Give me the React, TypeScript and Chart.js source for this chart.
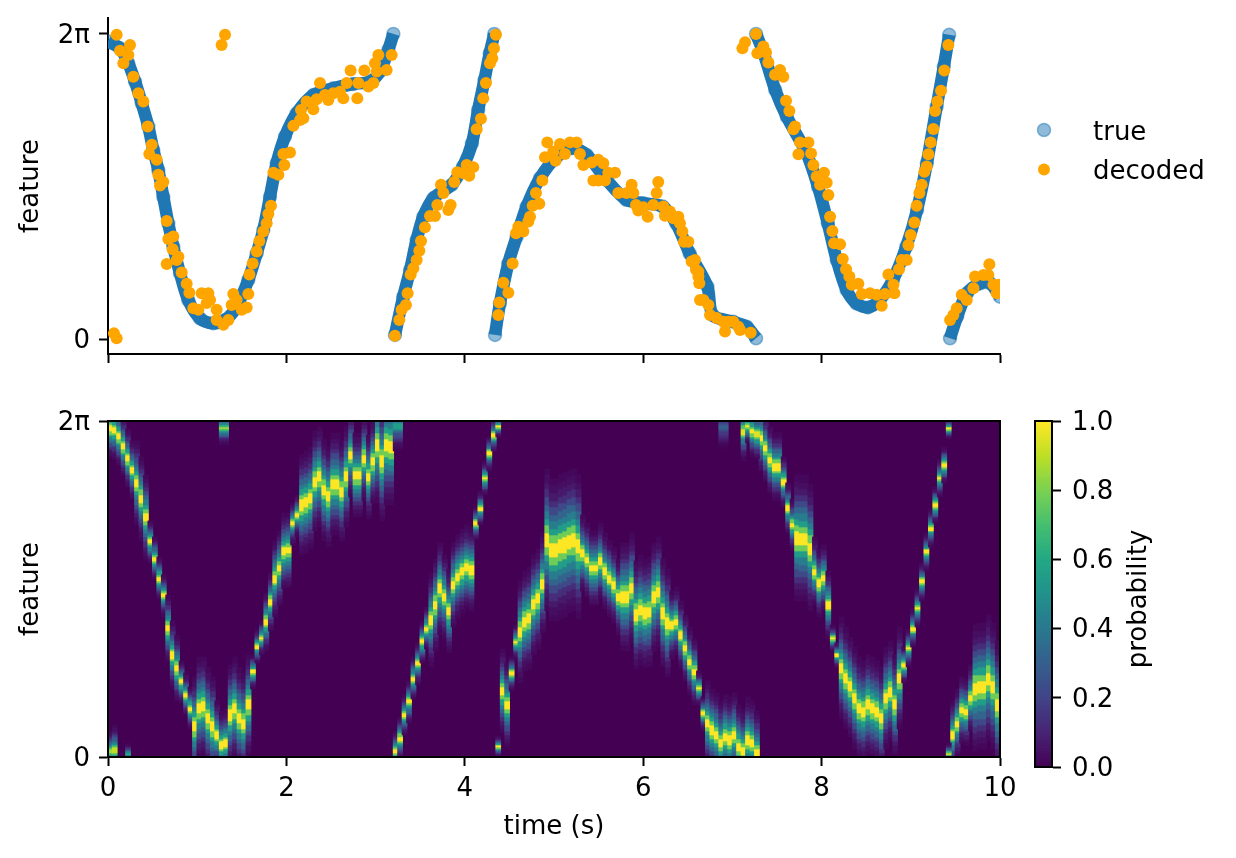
import React, { useEffect, useRef } from "react";
import { Chart, registerables } from "chart.js";

Chart.register(...registerables);

const TWO_PI = Math.PI * 2;
const FONT = "'DejaVu Sans'";
const FONT_SIZE = 26;

// True feature, as a fraction of 2π; null separates the wrapped runs.
const trueTime = [
  0, 0.135, 0.228, 0.303, 0.378, 0.452, 0.508, 0.564, 0.62, 0.676, 0.732, 0.807, 0.9, 1.031, 1.181, 1.312, 1.442, 1.573, 1.667, 1.741, 1.816, 1.891, 1.984, 2.115, 2.302, 2.526, 2.75, 2.937, 3.049, 3.143, 3.199, 3.21,
  3.217, 3.31, 3.386, 3.46, 3.535, 3.647, 3.853, 3.98, 4.08, 4.15, 4.22, 4.28, 4.33, 4.335,
  4.339, 4.394, 4.488, 4.581, 4.693, 4.843, 5.03, 5.2, 5.366, 5.59, 5.81, 6.0, 6.22, 6.37, 6.52, 6.72, 6.78, 7.01, 7.16, 7.265, 7.265,
  7.265, 7.35, 7.48, 7.61, 7.83, 7.96, 8.07, 8.17, 8.28, 8.39, 8.52, 8.65, 8.8, 8.95, 9.07, 9.18, 9.29, 9.37, 9.43, 9.435,
  9.44, 9.52, 9.63, 9.78, 9.89, 10,
];
const trueFraction = [
  0.975, 0.953, 0.904, 0.844, 0.773, 0.697, 0.62, 0.555, 0.467, 0.38, 0.304, 0.217, 0.129, 0.069, 0.053, 0.064, 0.107, 0.195, 0.282, 0.358, 0.467, 0.577, 0.664, 0.74, 0.8, 0.822, 0.836, 0.844, 0.877, 0.948, 1.0, null,
  0.015, 0.14, 0.227, 0.326, 0.402, 0.462, 0.506, 0.566, 0.642, 0.751, 0.849, 0.937, 1.0, null,
  0.015, 0.118, 0.249, 0.336, 0.435, 0.528, 0.598, 0.626, 0.604, 0.522, 0.457, 0.446, 0.435, 0.38, 0.282, 0.173, 0.08, 0.058, 0.042, 0.004, null,
  1.0, 0.937, 0.817, 0.729, 0.61, 0.5, 0.38, 0.26, 0.162, 0.118, 0.105, 0.129, 0.195, 0.304, 0.424, 0.577, 0.762, 0.893, 0.997, null,
  0.004, 0.075, 0.151, 0.184, 0.184, 0.14,
];

const decodedTime = [
  0.097, 0.067, 0.097, 0.247, 0.135, 0.228, 0.172, 0.284, 0.34, 0.396, 0.445, 0.49, 0.463, 0.546, 0.564, 0.62, 0.583, 0.658, 0.732, 0.676, 0.725, 0.789, 0.77, 0.658, 0.826, 0.882, 0.912, 1.05, 1.125, 0.957, 1.013, 1.106, 1.144, 1.218, 1.218, 1.293, 1.349, 1.274, 1.312, 1.405, 1.386, 1.442, 1.499, 1.555, 1.573, 1.585, 1.622, 1.667, 1.697, 1.741, 1.779, 1.798, 1.827, 1.854, 1.91, 1.977, 1.966, 2.04, 2.078, 2.153, 2.19, 2.164, 2.227, 2.302, 2.339, 2.377, 2.433, 2.47, 2.526, 2.601, 2.638, 2.676, 2.72, 2.795, 2.806, 2.874, 2.919, 2.975, 2.993, 3.031, 3.012, 3.124, 3.18,
  3.217, 3.266, 3.292, 3.34, 3.359, 3.393, 3.423, 3.46, 3.49, 3.509, 3.553, 3.61, 3.666, 3.692, 3.759, 3.733, 3.815, 3.841, 3.882, 3.916, 3.983, 4.021, 4.05, 4.095, 4.133, 4.181, 4.207, 4.237, 4.282, 4.308, 4.327, 4.349,
  4.376, 4.387, 4.488, 4.432, 4.536, 4.574, 4.6, 4.656, 4.712, 4.731, 4.761, 4.835, 4.798, 4.869, 4.899, 4.925, 4.992, 5.018, 5.067, 5.123, 5.179, 5.254, 5.291, 5.329, 5.422, 5.441, 5.497, 5.497, 5.571, 5.553, 5.609, 5.684, 5.721, 5.814, 5.87, 5.889, 5.919, 5.945, 6.001, 6.05, 6.113, 6.169, 6.151, 6.225, 6.244, 6.3, 6.338, 6.394, 6.412, 6.439, 6.457, 6.506, 6.543, 6.58, 6.618, 6.629, 6.637,
  6.592, 6.619, 6.675, 6.731, 6.749, 6.824, 6.917, 6.899, 6.955, 7.011, 7.067, 7.086, 7.205,
  7.112, 7.142, 7.265, 7.28, 7.347, 7.377, 7.403, 7.478, 7.534, 7.571, 7.601, 7.639, 7.684, 7.702, 7.758, 7.852, 7.74, 7.882, 7.908, 7.945, 7.983, 8.027, 8.057, 8.076, 8.095, 8.121, 8.14, 8.207, 8.237, 8.274, 8.311, 8.338, 8.412, 8.45, 8.543, 8.618, 8.674, 8.711, 8.749, 8.805, 8.816, 8.868, 8.898, 8.954, 8.973, 8.999, 9.04, 9.066, 9.096, 9.122, 9.152, 9.178, 9.197, 9.223, 9.253, 9.272, 9.298, 9.339, 9.376, 9.421,
  9.44, 9.477, 9.515, 9.571, 9.627, 9.702, 9.72, 9.814, 9.87, 9.881, 9.926, 9.982, 9.963,
];
const decodedFraction = [
  0.997, 0.02, 0.004, 0.964, 0.945, 0.931, 0.904, 0.86, 0.806, 0.779, 0.697, 0.637, 0.607, 0.588, 0.539, 0.515, 0.504, 0.388, 0.337, 0.329, 0.295, 0.271, 0.26, 0.247, 0.219, 0.182, 0.153, 0.151, 0.151, 0.102, 0.097, 0.119, 0.129, 0.097, 0.064, 0.048, 0.064, 0.964, 0.997, 0.149, 0.113, 0.129, 0.097, 0.105, 0.149, 0.213, 0.249, 0.288, 0.322, 0.353, 0.38, 0.411, 0.438, 0.546, 0.539, 0.571, 0.607, 0.612, 0.699, 0.718, 0.724, 0.751, 0.779, 0.753, 0.786, 0.839, 0.8, 0.784, 0.806, 0.811, 0.789, 0.839, 0.88, 0.789, 0.839, 0.88, 0.828, 0.839, 0.904, 0.931, 0.877, 0.882, 0.931,
  0.012, 0.064, 0.097, 0.113, 0.151, 0.213, 0.233, 0.26, 0.29, 0.322, 0.367, 0.404, 0.404, 0.44, 0.479, 0.506, 0.424, 0.44, 0.515, 0.547, 0.544, 0.571, 0.536, 0.564, 0.688, 0.722, 0.789, 0.839, 0.904, 0.92, 0.953, 0.997,
  0.08, 0.121, 0.153, 0.186, 0.249, 0.348, 0.369, 0.353, 0.386, 0.402, 0.438, 0.444, 0.479, 0.52, 0.596, 0.645, 0.615, 0.585, 0.64, 0.607, 0.645, 0.645, 0.607, 0.571, 0.579, 0.52, 0.588, 0.52, 0.52, 0.577, 0.546, 0.546, 0.479, 0.479, 0.506, 0.479, 0.44, 0.422, 0.433, 0.402, 0.44, 0.515, 0.479, 0.435, 0.405, 0.419, 0.397, 0.402, 0.38, 0.353, 0.32, 0.32, 0.255, 0.26, 0.222, 0.184, 0.129,
  0.228, 0.206, 0.129, 0.113, 0.08, 0.07, 0.026, 0.058, 0.058, 0.058, 0.042, 0.031, 0.022,
  0.953, 0.973, 1.0, 0.937, 0.959, 0.939, 0.906, 0.866, 0.882, 0.86, 0.781, 0.748, 0.688, 0.697, 0.645, 0.645, 0.606, 0.609, 0.571, 0.533, 0.506, 0.546, 0.513, 0.473, 0.402, 0.355, 0.315, 0.312, 0.263, 0.23, 0.206, 0.179, 0.182, 0.149, 0.151, 0.146, 0.11, 0.149, 0.213, 0.179, 0.151, 0.23, 0.26, 0.26, 0.309, 0.342, 0.383, 0.438, 0.479, 0.506, 0.549, 0.566, 0.606, 0.645, 0.689, 0.748, 0.779, 0.814, 0.88, 0.964,
  0.064, 0.08, 0.102, 0.146, 0.129, 0.168, 0.206, 0.211, 0.211, 0.246, 0.179, 0.179, 0.151,
];

// Heat map: for each time column, where the probability ridge sits and how wide it is.
const heatTime = [
  0.025, 0.075, 0.125, 0.175, 0.225, 0.275, 0.325, 0.375, 0.425, 0.475, 0.525, 0.575, 0.625, 0.675, 0.725, 0.775, 0.825, 0.875, 0.925, 0.975,
  1.025, 1.075, 1.125, 1.175, 1.225, 1.275, 1.325, 1.375, 1.425, 1.475, 1.525, 1.575, 1.625, 1.675, 1.725, 1.775, 1.825, 1.875, 1.925, 1.975,
  2.025, 2.075, 2.125, 2.175, 2.225, 2.275, 2.325, 2.375, 2.425, 2.475, 2.525, 2.575, 2.625, 2.675, 2.725, 2.775, 2.825, 2.875, 2.925, 2.975,
  3.025, 3.075, 3.125, 3.175, 3.225, 3.275, 3.325, 3.375, 3.425, 3.475, 3.525, 3.575, 3.625, 3.675, 3.725, 3.775, 3.825, 3.875, 3.925, 3.975,
  4.025, 4.075, 4.125, 4.175, 4.225, 4.275, 4.325, 4.375, 4.425, 4.475, 4.525, 4.575, 4.625, 4.675, 4.725, 4.775, 4.825, 4.875, 4.925, 4.975,
  5.025, 5.075, 5.125, 5.175, 5.225, 5.275, 5.325, 5.375, 5.425, 5.475, 5.525, 5.575, 5.625, 5.675, 5.725, 5.775, 5.825, 5.875, 5.925, 5.975,
  6.025, 6.075, 6.125, 6.175, 6.225, 6.275, 6.325, 6.375, 6.425, 6.475, 6.525, 6.575, 6.625, 6.675, 6.725, 6.775, 6.825, 6.875, 6.925, 6.975,
  7.025, 7.075, 7.125, 7.175, 7.225, 7.275, 7.325, 7.375, 7.425, 7.475, 7.525, 7.575, 7.625, 7.675, 7.725, 7.775, 7.825, 7.875, 7.925, 7.975,
  8.025, 8.075, 8.125, 8.175, 8.225, 8.275, 8.325, 8.375, 8.425, 8.475, 8.525, 8.575, 8.625, 8.675, 8.725, 8.775, 8.825, 8.875, 8.925, 8.975,
  9.025, 9.075, 9.125, 9.175, 9.225, 9.275, 9.325, 9.375, 9.425, 9.475, 9.525, 9.575, 9.625, 9.675, 9.725, 9.775, 9.825, 9.875, 9.925, 9.975,
];
const heatCentre = [
  0.978, 0.973, 0.954, 0.924, 0.889, 0.854, 0.815, 0.77, 0.715, 0.641, 0.591, 0.532, 0.482, 0.383, 0.304, 0.264, 0.224, 0.185, 0.145, 0.09,
  0.145, 0.15, 0.115, 0.09, 0.066, 0.036, 0.041, 0.125, 0.145, 0.115, 0.1, 0.155, 0.254, 0.329, 0.355, 0.403, 0.462, 0.532, 0.562, 0.611,
  0.616, 0.696, 0.72, 0.75, 0.758, 0.77, 0.82, 0.835, 0.795, 0.775, 0.812, 0.812, 0.79, 0.835, 0.899, 0.837, 0.837, 0.889, 0.835, 0.879,
  0.929, 0.879, 0.927, 0.924, 0.016, 0.056, 0.125, 0.165, 0.234, 0.279, 0.343, 0.383, 0.408, 0.453, 0.502, 0.477, 0.433, 0.512, 0.537, 0.552,
  0.564, 0.557, 0.696, 0.74, 0.83, 0.904, 0.958, 0.03, 0.195, 0.155, 0.249, 0.343, 0.373, 0.403, 0.413, 0.453, 0.472, 0.517, 0.646, 0.616,
  0.616, 0.626, 0.631, 0.641, 0.646, 0.626, 0.606, 0.586, 0.562, 0.562, 0.582, 0.552, 0.532, 0.512, 0.477, 0.477, 0.477, 0.502, 0.423, 0.438,
  0.428, 0.433, 0.477, 0.492, 0.428, 0.398, 0.393, 0.403, 0.363, 0.324, 0.284, 0.254, 0.205, 0.13, 0.1, 0.08, 0.066, 0.041, 0.061, 0.051,
  0.066, 0.031, 0.016, 0.051, 0.041, 0.011, 0.949, 0.919, 0.884, 0.864, 0.864, 0.82, 0.74, 0.691, 0.651, 0.649, 0.649, 0.621, 0.552, 0.517,
  0.532, 0.453, 0.353, 0.304, 0.264, 0.234, 0.209, 0.175, 0.145, 0.135, 0.155, 0.145, 0.135, 0.115, 0.175, 0.195, 0.155, 0.234, 0.274, 0.324,
  0.383, 0.443, 0.522, 0.611, 0.681, 0.75, 0.83, 0.869, 0.978, 0.066, 0.1, 0.14, 0.135, 0.175, 0.204, 0.209, 0.209, 0.234, 0.209, 0.155,
];
const heatSpread = [
  0.035, 0.035, 0.035, 0.035, 0.035, 0.035, 0.05, 0.05, 0.05, 0.025, 0.025, 0.025, 0.025, 0.04, 0.04, 0.04, 0.025, 0.025, 0.025, 0.06,
  0.06, 0.06, 0.06, 0.06, 0.04, 0.04, 0.04, 0.06, 0.06, 0.06, 0.06, 0.06, 0.02, 0.02, 0.02, 0.035, 0.035, 0.045, 0.045, 0.045,
  0.045, 0.025, 0.025, 0.06, 0.06, 0.06, 0.06, 0.06, 0.06, 0.06, 0.06, 0.06, 0.06, 0.06, 0.05, 0.05, 0.05, 0.05, 0.05, 0.05,
  0.07, 0.07, 0.07, 0.07, 0.025, 0.025, 0.025, 0.025, 0.025, 0.025, 0.025, 0.025, 0.055, 0.055, 0.055, 0.05, 0.05, 0.05, 0.05, 0.05,
  0.05, 0.05, 0.02, 0.02, 0.02, 0.02, 0.02, 0.012, 0.05, 0.05, 0.02, 0.02, 0.06, 0.06, 0.06, 0.06, 0.06, 0.06, 0.085, 0.085,
  0.085, 0.085, 0.085, 0.085, 0.085, 0.085, 0.045, 0.045, 0.045, 0.045, 0.045, 0.045, 0.045, 0.045, 0.045, 0.065, 0.065, 0.065, 0.065, 0.065,
  0.065, 0.065, 0.065, 0.065, 0.065, 0.065, 0.04, 0.04, 0.04, 0.04, 0.04, 0.04, 0.02, 0.02, 0.05, 0.05, 0.05, 0.05, 0.05, 0.05,
  0.05, 0.05, 0.05, 0.05, 0.05, 0.05, 0.04, 0.04, 0.04, 0.04, 0.04, 0.03, 0.03, 0.03, 0.075, 0.075, 0.075, 0.075, 0.04, 0.04,
  0.04, 0.04, 0.015, 0.015, 0.06, 0.06, 0.06, 0.06, 0.06, 0.06, 0.06, 0.06, 0.06, 0.06, 0.06, 0.06, 0.06, 0.06, 0.022, 0.022,
  0.022, 0.022, 0.022, 0.022, 0.022, 0.022, 0.022, 0.022, 0.012, 0.04, 0.04, 0.04, 0.04, 0.04, 0.075, 0.075, 0.075, 0.075, 0.075, 0.075,
];

// Second lobes that appear where the feature wraps round 2π.
const lobeTime = [0.025, 0.075, 0.225, 1.275, 1.325, 3.225, 3.275, 4.375, 6.875, 6.925, 7.125, 7.175, 7.225, 7.275, 9.425];
const lobeCentre = [0.016, 0.02, 0.01, 0.98, 0.98, 0.985, 0.985, 0.985, 0.98, 0.98, 0.97, 0.985, 0.97, 0.96, 0.011];
const lobeSpread = [0.025, 0.03, 0.012, 0.02, 0.02, 0.03, 0.03, 0.012, 0.025, 0.025, 0.035, 0.02, 0.03, 0.03, 0.012];
const lobePeak = [0.85, 0.9, 0.6, 0.85, 0.85, 0.55, 0.55, 1, 0.3, 0.3, 0.95, 1, 1, 0.95, 0.9];

// Probability on the ridge, by distance from its centre in quarter-widths.
const ridgeProfile = [1, 0.78, 0.55, 0.42, 0.32, 0.22, 0.13, 0.07, 0.04, 0.02];

const viridisStops = [
  [68, 1, 84], [72, 36, 117], [65, 68, 135], [53, 95, 141], [42, 120, 142], [33, 145, 140],
  [34, 168, 132], [68, 191, 112], [122, 209, 81], [189, 223, 38], [253, 231, 37],
];
const colourbarTicks = [0, 0.2, 0.4, 0.6, 0.8, 1];

const ROW = 1 / 168;

function viridis(v: number): string {
  const p = Math.max(0, Math.min(1, v)) * (viridisStops.length - 1);
  const i = Math.min(viridisStops.length - 2, Math.floor(p));
  const f = p - i;
  const c = viridisStops[i].map((a, k) => Math.round(a + (viridisStops[i + 1][k] - a) * f));
  return `rgb(${c[0]},${c[1]},${c[2]})`;
}

function ridgeCells(time: number, centre: number, spread: number, peak: number) {
  const cells: { x: number; y: [number, number]; v: number }[] = [];
  for (let r = 0; r < 168; r++) {
    const mid = (r + 0.5) * ROW;
    const idx = Math.floor((Math.abs(mid - centre) / spread) * 4);
    if (idx >= ridgeProfile.length) continue;
    cells.push({ x: time, y: [r * ROW * TWO_PI, (r + 1.08) * ROW * TWO_PI], v: ridgeProfile[idx] * peak });
  }
  return cells;
}

const blackAxis = { display: true, color: "#000", width: 2 };
const tickMarks = { display: true, offset: false, drawOnChartArea: false, drawTicks: true, tickLength: 9, tickWidth: 2, tickColor: "#000" };
const tickFont = { family: FONT, size: FONT_SIZE };

function featureAxis(min: number, max: number) {
  return {
    type: "linear",
    min,
    max,
    border: blackAxis,
    grid: tickMarks,
    afterBuildTicks: (axis: any) => {
      axis.ticks = [{ value: 0 }, { value: TWO_PI }];
    },
    afterFit: (axis: any) => {
      axis.width = 108;
    },
    ticks: {
      color: "#000",
      font: tickFont,
      padding: 9,
      labelOffset: 2,
      callback: (v: number) => (v === 0 ? "0" : "2π"),
    },
    title: {
      display: true,
      text: "feature",
      color: "#000",
      font: tickFont,
      padding: { top: 16, bottom: 0 },
    },
  };
}

const boxPlugin = {
  id: "box",
  afterDraw(chart: any) {
    const { ctx, chartArea: a } = chart;
    ctx.save();
    ctx.strokeStyle = "#000";
    ctx.lineWidth = 2;
    ctx.strokeRect(a.left, a.top, a.right - a.left, a.bottom - a.top);
    ctx.restore();
  },
};

const heatBackground = {
  id: "heatBackground",
  beforeDatasetsDraw(chart: any) {
    const { ctx, chartArea: a } = chart;
    ctx.fillStyle = viridis(0);
    ctx.fillRect(a.left, a.top, a.right - a.left, a.bottom - a.top);
  },
};

const sideLegend = {
  id: "sideLegend",
  afterDraw(chart: any) {
    const { ctx } = chart;
    ctx.save();
    ctx.font = `${FONT_SIZE}px ${FONT}`;
    ctx.textBaseline = "middle";
    ctx.textAlign = "left";
    chart.data.datasets
      .slice()
      .sort((a: any, b: any) => b.order - a.order)
      .forEach((ds: any, i: number) => {
        const y = 140 + i * 39.5;
        ctx.beginPath();
        ctx.arc(1044, y, ds.pointRadius, 0, TWO_PI);
        ctx.fillStyle = ds.pointBackgroundColor;
        ctx.fill();
        if (ds.pointBorderWidth) {
          ctx.lineWidth = ds.pointBorderWidth;
          ctx.strokeStyle = ds.pointBorderColor;
          ctx.stroke();
        }
        ctx.fillStyle = "#000";
        ctx.fillText(ds.label, 1093, y + 3);
      });
    ctx.restore();
  },
};

const colourbarLabel = {
  id: "colourbarLabel",
  afterDraw(chart: any) {
    const { ctx } = chart;
    ctx.save();
    ctx.translate(119, 209);
    ctx.rotate(-Math.PI / 2);
    ctx.font = `${FONT_SIZE}px ${FONT}`;
    ctx.fillStyle = "#000";
    ctx.textAlign = "center";
    ctx.textBaseline = "middle";
    ctx.fillText("probability", 0, 0);
    ctx.restore();
  },
};

function buildTop(canvas: HTMLCanvasElement) {
  return new Chart(canvas, {
    type: "scatter",
    data: {
      datasets: [
        {
          label: "true",
          order: 2,
          data: trueTime.map((x, i) => ({ x, y: trueFraction[i] === null ? null : (trueFraction[i] as number) * TWO_PI })),
          showLine: true,
          spanGaps: false,
          tension: 0.3,
          borderColor: "#1f77b4",
          borderWidth: 12.5,
          borderCapStyle: "butt",
          borderJoinStyle: "round",
          pointRadius: 6.5,
          pointBackgroundColor: "rgba(31,119,180,0.5)",
          pointBorderColor: "rgba(31,119,180,0.5)",
          pointBorderWidth: 1.5,
        },
        {
          label: "decoded",
          order: 1,
          data: decodedTime.map((x, i) => ({ x, y: decodedFraction[i] * TWO_PI })),
          pointRadius: 6,
          pointBackgroundColor: "#ffa500",
          pointBorderColor: "#ffa500",
          pointBorderWidth: 0,
        },
      ],
    } as any,
    options: {
      animation: false,
      responsive: false,
      devicePixelRatio: 1,
      layout: { padding: { left: 0, right: 236, top: 28, bottom: 0 } },
      plugins: { legend: { display: false }, tooltip: { enabled: false } },
      scales: {
        x: {
          type: "linear",
          min: 0,
          max: 10,
          border: blackAxis,
          grid: tickMarks,
          ticks: { display: false, stepSize: 2 },
          afterFit: (axis: any) => {
            axis.height = 26;
          },
        },
        y: featureAxis(-0.0475 * TWO_PI, 1.052 * TWO_PI),
      },
    } as any,
    plugins: [sideLegend],
  });
}

function buildHeat(canvas: HTMLCanvasElement) {
  const cells = [
    ...heatTime.flatMap((t, i) => ridgeCells(t, heatCentre[i], heatSpread[i], 1)),
    ...lobeTime.flatMap((t, i) => ridgeCells(t, lobeCentre[i], lobeSpread[i], lobePeak[i])),
  ];
  return new Chart(canvas, {
    type: "bar",
    data: {
      datasets: [
        {
          label: "probability",
          data: cells.map((c) => ({ x: c.x, y: c.y })),
          backgroundColor: cells.map((c) => viridis(c.v)),
          barThickness: 5,
          borderWidth: 0,
        },
      ],
    } as any,
    options: {
      animation: false,
      responsive: false,
      devicePixelRatio: 1,
      layout: { padding: { left: 0, right: 236, top: 31, bottom: 0 } },
      plugins: { legend: { display: false }, tooltip: { enabled: false } },
      scales: {
        x: {
          type: "linear",
          offset: false,
          min: 0,
          max: 10,
          border: blackAxis,
          grid: tickMarks,
          ticks: { color: "#000", font: tickFont, stepSize: 2, padding: 8, maxRotation: 0 },
          title: { display: true, text: "time (s)", color: "#000", font: tickFont, padding: { top: 0, bottom: 15 } },
          afterFit: (axis: any) => {
            axis.height = 101;
          },
        },
        y: featureAxis(0, TWO_PI),
      },
    } as any,
    plugins: [heatBackground, boxPlugin],
  });
}

function buildColourbar(canvas: HTMLCanvasElement) {
  const levels: number[] = [];
  for (let i = 0; i < 128; i++) levels.push(i / 128);
  return new Chart(canvas, {
    type: "bar",
    data: {
      datasets: [
        {
          label: "probability scale",
          data: levels.map((v) => ({ x: 0.5, y: [v, v + 1.5 / 128] })),
          backgroundColor: levels.map((v) => viridis(v + 0.5 / 128)),
          barThickness: 17,
          borderWidth: 0,
        },
      ],
    } as any,
    options: {
      animation: false,
      responsive: false,
      devicePixelRatio: 1,
      layout: { padding: { left: 15, right: 0, top: 31, bottom: 33 } },
      plugins: { legend: { display: false }, tooltip: { enabled: false } },
      scales: {
        x: { type: "linear", offset: false, min: 0, max: 1, display: false },
        y: {
          type: "linear",
          position: "right",
          min: 0,
          max: 1,
          border: blackAxis,
          grid: tickMarks,
          afterBuildTicks: (axis: any) => {
            axis.ticks = colourbarTicks.map((value) => ({ value }));
          },
          afterFit: (axis: any) => {
            axis.width = 184;
          },
          ticks: {
            color: "#000",
            font: tickFont,
            padding: 11,
            labelOffset: 2,
            callback: (v: number) => v.toFixed(1),
          },
        },
      },
    } as any,
    plugins: [boxPlugin, colourbarLabel],
  });
}

export default function App() {
  const topRef = useRef<HTMLCanvasElement>(null);
  const heatRef = useRef<HTMLCanvasElement>(null);
  const barRef = useRef<HTMLCanvasElement>(null);

  useEffect(() => {
    const charts = [buildTop(topRef.current!), buildHeat(heatRef.current!), buildColourbar(barRef.current!)];
    return () => charts.forEach((c) => c.destroy());
  }, []);

  return (
    <div style={{ position: "fixed", left: 0, top: 0, width: 1236, height: 858, background: "#fff", overflow: "hidden" }}>
      <canvas ref={topRef} width={1236} height={390} style={{ position: "absolute", left: 0, top: -10, display: "block" }} />
      <canvas ref={heatRef} width={1236} height={468} style={{ position: "absolute", left: 0, top: 390, display: "block" }} />
      <canvas ref={barRef} width={216} height={410} style={{ position: "absolute", left: 1020, top: 390, display: "block" }} />
    </div>
  );
}
